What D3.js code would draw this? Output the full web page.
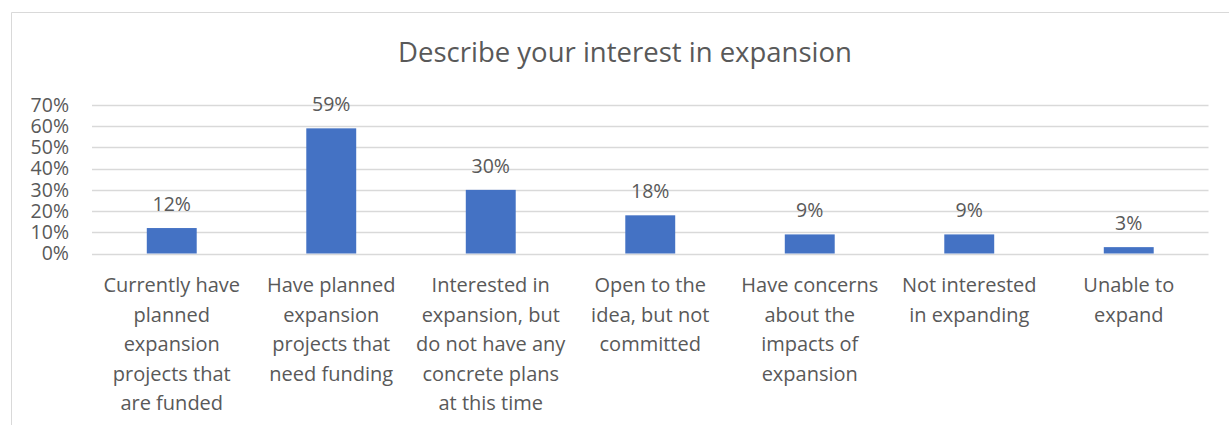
<!DOCTYPE html>
<html>
<head>
<meta charset="utf-8">
<script src="https://cdn.jsdelivr.net/npm/d3@7"></script>
<style>
  html, body { margin: 0; padding: 0; background: #fff; }
  svg { display: block; }
  text { font-family: "Open Sans", "Noto Sans", sans-serif; fill: #595959; }
</style>
</head>
<body>
<svg id="chart" width="1229" height="425"></svg>
<script>
// Survey answers, one label line per array entry
const categories = [
  ["Currently have", "planned", "expansion", "projects that", "are funded"],
  ["Have planned", "expansion", "projects that", "need funding"],
  ["Interested in", "expansion, but", "do not have any", "concrete plans", "at this time"],
  ["Open to the", "idea, but not", "committed"],
  ["Have concerns", "about the", "impacts of", "expansion"],
  ["Not interested", "in expanding"],
  ["Unable to", "expand"]
];
const shares = [0.12, 0.59, 0.30, 0.18, 0.09, 0.09, 0.03];
const yTicks = [0, 0.1, 0.2, 0.3, 0.4, 0.5, 0.6, 0.7];
const title = "Describe your interest in expansion";

const svg = d3.select("#chart");
const W = 1229, H = 425;

// Chart frame (open on the right and bottom)
svg.append("path")
  .attr("d", `M11.5,${H} V12.5 H${W}`)
  .attr("fill", "none")
  .attr("stroke", "#d9d9d9")
  .attr("stroke-width", 1);

const plot = { left: 92, right: 1208.5, top: 105, bottom: 253.5 };

const x = d3.scaleBand()
  .domain(d3.range(categories.length))
  .range([plot.left, plot.right])
  .paddingInner(0.687)
  .paddingOuter(0.3435);

const y = d3.scaleLinear()
  .domain([0, 0.7])
  .range([plot.bottom, plot.top]);

// Title
svg.append("text")
  .attr("x", 625)
  .attr("y", 62)
  .attr("text-anchor", "middle")
  .style("font-size", "27.5px")
  .text(title);

// Gridlines
svg.append("g")
  .selectAll("line")
  .data(yTicks)
  .join("line")
  .attr("x1", plot.left)
  .attr("x2", plot.right)
  .attr("y1", d => Math.round(y(d)) + 0.5)
  .attr("y2", d => Math.round(y(d)) + 0.5)
  .attr("stroke", "#d9d9d9")
  .attr("stroke-width", 1.4);

// Y axis labels
const yAxis = d3.axisLeft(y)
  .tickValues(yTicks)
  .tickFormat(d3.format(".0%"))
  .tickSize(0)
  .tickPadding(0);

const gy = svg.append("g")
  .attr("transform", `translate(69,0)`)
  .call(yAxis);
gy.select(".domain").remove();
gy.selectAll("text")
  .attr("fill", "#595959")
  .style("font-family", '"Open Sans", "Noto Sans", sans-serif')
  .style("font-size", "19.5px");

// Bars
svg.append("g")
  .selectAll("rect")
  .data(shares)
  .join("rect")
  .attr("x", (d, i) => x(i))
  .attr("width", x.bandwidth())
  .attr("y", d => y(d))
  .attr("height", d => y(0) - y(d))
  .attr("fill", "#4472C4");

// Value labels
svg.append("g")
  .selectAll("text")
  .data(shares)
  .join("text")
  .attr("x", (d, i) => x(i) + x.bandwidth() / 2)
  .attr("y", d => y(d) - 17)
  .attr("text-anchor", "middle")
  .style("font-size", "19.5px")
  .text(d => d3.format(".0%")(d));

// Category labels
const cat = svg.append("g")
  .selectAll("text")
  .data(categories)
  .join("text")
  .attr("x", (d, i) => x(i) + x.bandwidth() / 2)
  .attr("y", 292)
  .attr("text-anchor", "middle")
  .style("font-size", "20px");

cat.selectAll("tspan")
  .data(d => d)
  .join("tspan")
  .attr("x", function () { return d3.select(this.parentNode).attr("x"); })
  .attr("dy", (d, i) => i === 0 ? 0 : 29.5)
  .text(d => d);
</script>
</body>
</html>
